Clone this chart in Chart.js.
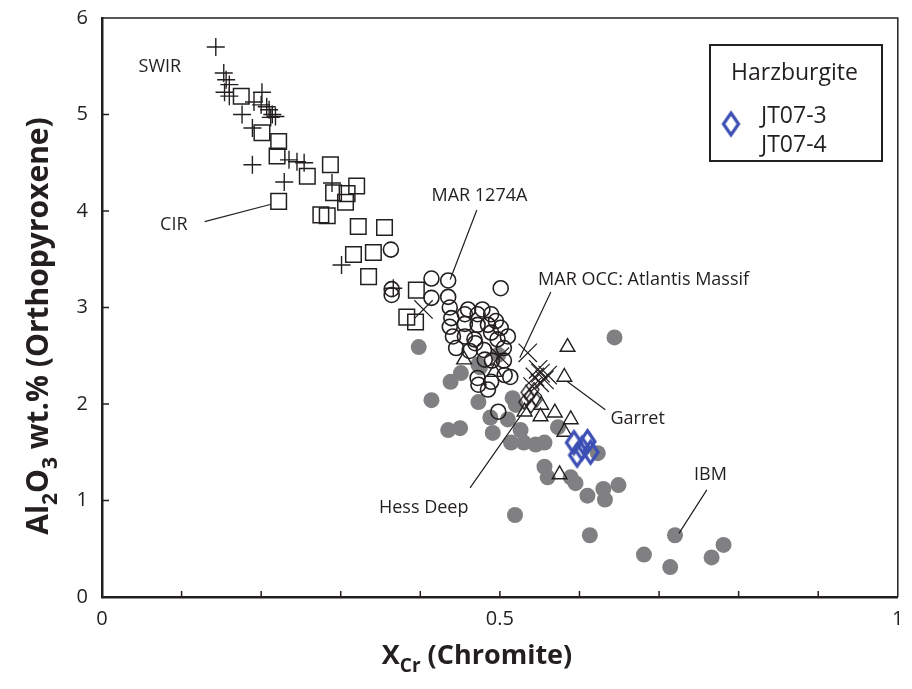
<!DOCTYPE html>
<html>
<head>
<meta charset="utf-8">
<script src="https://cdn.jsdelivr.net/npm/chart.js@4.4.1/dist/chart.umd.min.js"></script>
<style>
  html, body { margin: 0; padding: 0; background: #fff; }
  #wrap { width: 912px; height: 689px; }
</style>
</head>
<body>
<div id="wrap"><canvas id="chart" width="912" height="689"></canvas></div>
<script>
// ---- data (X_Cr chromite vs Al2O3 opx) ----
const swirX = [0.143, 0.153, 0.156, 0.160, 0.154, 0.160, 0.176, 0.191, 0.201, 0.200, 0.210, 0.214, 0.218, 0.212, 0.207, 0.189, 0.189, 0.229, 0.235, 0.245, 0.254, 0.289, 0.301, 0.366];
const swirY = [5.70, 5.43, 5.36, 5.31, 5.23, 5.19, 5.00, 5.13, 5.23, 5.10, 5.05, 5.00, 4.98, 4.97, 5.08, 4.86, 4.48, 4.30, 4.53, 4.51, 4.50, 4.29, 3.44, 3.20];

const cirX = [0.175, 0.201, 0.222, 0.220, 0.222, 0.258, 0.287, 0.291, 0.320, 0.306, 0.308, 0.275, 0.283, 0.322, 0.355, 0.316, 0.341, 0.335, 0.395, 0.383, 0.394];
const cirY = [5.19, 4.81, 4.72, 4.57, 4.10, 4.36, 4.48, 4.19, 4.26, 4.09, 4.18, 3.96, 3.95, 3.84, 3.83, 3.55, 3.57, 3.32, 3.18, 2.90, 2.85];

const mar1274X = [0.363, 0.364, 0.364, 0.414, 0.435, 0.414, 0.435, 0.501, 0.437, 0.439, 0.456, 0.472, 0.489, 0.501, 0.472, 0.456, 0.437, 0.441, 0.456, 0.468, 0.489, 0.497, 0.485, 0.460, 0.478, 0.495, 0.510, 0.505, 0.480, 0.462, 0.445, 0.490, 0.472, 0.489, 0.506, 0.513, 0.469, 0.481, 0.473, 0.485, 0.505, 0.498];
const mar1274Y = [3.60, 3.19, 3.13, 3.30, 3.28, 3.10, 3.11, 3.20, 3.00, 2.89, 2.93, 2.93, 2.93, 2.79, 2.82, 2.83, 2.80, 2.70, 2.70, 2.67, 2.74, 2.67, 2.82, 2.98, 2.98, 2.86, 2.70, 2.58, 2.56, 2.55, 2.58, 2.45, 2.27, 2.23, 2.30, 2.28, 2.63, 2.46, 2.20, 2.15, 2.45, 1.92];

const occX = [0.404, 0.500, 0.535, 0.548, 0.551, 0.544, 0.556, 0.550, 0.541, 0.560];
const occY = [2.98, 2.49, 2.53, 2.36, 2.32, 2.28, 2.25, 2.22, 2.18, 2.30];

const hessX = [0.533, 0.543, 0.530, 0.537, 0.546, 0.539];
const hessY = [2.12, 2.15, 2.02, 2.08, 2.04, 1.98];

const garretX = [0.585, 0.581, 0.551, 0.569, 0.589, 0.581, 0.575, 0.531, 0.455, 0.493, 0.552];
const garretY = [2.59, 2.28, 1.87, 1.91, 1.84, 1.71, 1.27, 1.92, 2.46, 2.33, 1.99];

const ibmX = [0.398, 0.451, 0.438, 0.414, 0.473, 0.498, 0.475, 0.473, 0.435, 0.450, 0.488, 0.491, 0.644, 0.516, 0.520, 0.510, 0.526, 0.514, 0.530, 0.545, 0.556, 0.573, 0.623, 0.556, 0.560, 0.589, 0.595, 0.610, 0.630, 0.632, 0.649, 0.519, 0.613, 0.720, 0.681, 0.714, 0.766, 0.781];
const ibmY = [2.59, 2.32, 2.23, 2.04, 2.41, 2.51, 2.38, 2.02, 1.73, 1.75, 1.86, 1.70, 2.69, 2.06, 1.99, 1.84, 1.73, 1.60, 1.60, 1.58, 1.60, 1.76, 1.49, 1.35, 1.24, 1.24, 1.18, 1.05, 1.12, 1.01, 1.16, 0.85, 0.64, 0.64, 0.44, 0.31, 0.41, 0.54];

const jtX = [0.593, 0.610, 0.597, 0.614, 0.603];
const jtY = [1.60, 1.61, 1.47, 1.50, 1.54];

const xTicks = [0, 0.5, 1];
const yTicks = [0, 1, 2, 3, 4, 5, 6];

// labels with leader lines, in data units
const noteText = ['SWIR', 'CIR', 'MAR 1274A', 'MAR OCC: Atlantis Massif', 'Garret', 'Hess Deep', 'IBM'];
const noteX = [0.046, 0.073, 0.414, 0.548, 0.639, 0.348, 0.744];
const noteY = [5.49, 3.86, 4.16, 3.29, 1.85, 0.92, 1.27];
const lineFrom = [null, [0.129, 3.89], [0.471, 4.01], [0.564, 3.16], [0.585, 2.23], [0.4625, 1.13], [0.760, 1.11]];
const lineTo = [null, [0.2125, 4.07], [0.4375, 3.29], [0.525, 2.48], [0.6325, 1.94], [0.5475, 2.13], [0.725, 0.66]];

const INK = '#231f20';
const GRAY = '#808083';
const BLUE = '#3c4fb4';
const FONT = '"Open Sans", "Noto Sans", sans-serif';

const pts = (xs, ys) => xs.map((x, i) => ({ x: x, y: ys[i] }));

function diamond(w, h, color, lw) {
    const c = document.createElement('canvas');
    c.width = w + lw * 2;
    c.height = h + lw * 2;
    const g = c.getContext('2d');
    const cx = c.width / 2, cy = c.height / 2;
    g.strokeStyle = color;
    g.lineWidth = lw;
    g.beginPath();
    g.moveTo(cx, cy - h / 2);
    g.lineTo(cx + w / 2, cy);
    g.lineTo(cx, cy + h / 2);
    g.lineTo(cx - w / 2, cy);
    g.closePath();
    g.stroke();
    return c;
}

const blueDiamond = diamond(15, 22, BLUE, 3.2);
const smallDiamond = diamond(10, 14, INK, 1.3);

// ticks, frame, notes, legend and axis titles
const decor = {
    id: 'decor',
    afterDraw(chart) {
        const ctx = chart.ctx;
        const xs = chart.scales.x, ys = chart.scales.y;
        const a = chart.chartArea;
        ctx.save();
        ctx.strokeStyle = INK;

        // frame top/right
        ctx.lineWidth = 1.5;
        ctx.beginPath();
        ctx.moveTo(a.left, a.top);
        ctx.lineTo(a.right, a.top);
        ctx.lineTo(a.right, a.bottom);
        ctx.stroke();

        // inward ticks
        ctx.beginPath();
        for (let i = 1; i < 10; i++) {
            const px = xs.getPixelForValue(i / 10);
            ctx.moveTo(px, a.bottom);
            ctx.lineTo(px, a.bottom - 6);
        }
        for (let v = 1; v < 6; v++) {
            const py = ys.getPixelForValue(v);
            ctx.moveTo(a.left, py);
            ctx.lineTo(a.left + 7, py);
        }
        ctx.stroke();

        // notes
        ctx.lineWidth = 1.2;
        ctx.beginPath();
        lineFrom.forEach((f, i) => {
            if (!f) return;
            ctx.moveTo(xs.getPixelForValue(f[0]), ys.getPixelForValue(f[1]));
            ctx.lineTo(xs.getPixelForValue(lineTo[i][0]), ys.getPixelForValue(lineTo[i][1]));
        });
        ctx.stroke();
        ctx.fillStyle = INK;
        ctx.font = '18px ' + FONT;
        ctx.textBaseline = 'middle';
        ctx.textAlign = 'left';
        noteText.forEach((t, i) => {
            ctx.fillText(t, xs.getPixelForValue(noteX[i]), ys.getPixelForValue(noteY[i]));
        });

        // legend box
        ctx.lineWidth = 2;
        ctx.strokeRect(710, 45, 172, 116);
        ctx.font = '23px ' + FONT;
        ctx.fillText('Harzburgite', 731, 73);
        ctx.fillText('JT07-3', 761, 116);
        ctx.fillText('JT07-4', 761, 145);
        ctx.drawImage(blueDiamond, 731 - blueDiamond.width / 2, 124 - blueDiamond.height / 2);

        // axis titles with subscripts
        function run(parts, x0, base, big, small, drop) {
            let x = x0;
            parts.forEach(p => {
                ctx.font = p[1] ? small : big;
                ctx.fillText(p[0], x, base + (p[1] ? drop : 0));
                x += ctx.measureText(p[0]).width;
            });
        }
        function width(parts, big, small) {
            let w = 0;
            parts.forEach(p => { ctx.font = p[1] ? small : big; w += ctx.measureText(p[0]).width; });
            return w;
        }
        ctx.textBaseline = 'alphabetic';
        const xb = 'bold 27px ' + FONT, xsm = 'bold 19px ' + FONT;
        const xt = [['X', 0], ['Cr', 1], [' (Chromite)', 0]];
        run(xt, 477 - width(xt, xb, xsm) / 2, 664, xb, xsm, 8);

        const yb = 'bold 30px ' + FONT, ysm = 'bold 21px ' + FONT;
        const yt = [['Al', 0], ['2', 1], ['O', 0], ['3', 1], [' wt.% (Orthopyroxene)', 0]];
        ctx.translate(37, 326);
        ctx.rotate(-Math.PI / 2);
        run(yt, -width(yt, yb, ysm) / 2, 11, yb, ysm, 9);
        ctx.restore();
    }
};

new Chart(document.getElementById('chart'), {
    type: 'scatter',
    data: {
        datasets: [
            { label: 'JT07', data: pts(jtX, jtY), pointStyle: blueDiamond },
            { label: 'Hess Deep', data: pts(hessX, hessY), pointStyle: smallDiamond },
            { label: 'Garret', data: pts(garretX, garretY), pointStyle: 'triangle', pointRadius: 8.5, pointBorderWidth: 1.4, pointBorderColor: INK, pointBackgroundColor: 'rgba(0,0,0,0)' },
            { label: 'MAR OCC', data: pts(occX, occY), pointStyle: 'crossRot', pointRadius: 13, pointBorderWidth: 1.2, pointBorderColor: INK },
            { label: 'MAR 1274A', data: pts(mar1274X, mar1274Y), pointStyle: 'circle', pointRadius: 7.5, pointBorderWidth: 1.6, pointBorderColor: INK, pointBackgroundColor: 'rgba(0,0,0,0)' },
            { label: 'CIR', data: pts(cirX, cirY), pointStyle: 'rect', pointRadius: 11, pointBorderWidth: 1.5, pointBorderColor: INK, pointBackgroundColor: 'rgba(0,0,0,0)' },
            { label: 'SWIR', data: pts(swirX, swirY), pointStyle: 'cross', pointRadius: 9, pointBorderWidth: 1.4, pointBorderColor: INK },
            { label: 'IBM', data: pts(ibmX, ibmY), pointStyle: 'circle', pointRadius: 8, pointBorderWidth: 0, pointBackgroundColor: GRAY }
        ]
    },
    options: {
        responsive: false,
        animation: false,
        devicePixelRatio: 1,
        events: [],
        layout: { padding: { top: 18, right: 10, left: 0, bottom: 0 } },
        plugins: { legend: { display: false }, tooltip: { enabled: false } },
        scales: {
            x: {
                type: 'linear', min: 0, max: 1,
                afterFit: s => { s.height = 92; s.paddingLeft = 0; s.paddingRight = 0; },
                afterBuildTicks: s => { s.ticks = xTicks.map(v => ({ value: v })); },
                ticks: { font: { size: 20, family: FONT }, color: INK, padding: 10, callback: v => String(v), maxRotation: 0 },
                grid: { display: false, drawTicks: false },
                border: { display: true, color: INK, width: 2.5 }
            },
            y: {
                min: 0, max: 6,
                afterFit: s => { s.width = 102; s.paddingTop = 0; s.paddingBottom = 0; },
                afterBuildTicks: s => { s.ticks = yTicks.map(v => ({ value: v })); },
                ticks: { font: { size: 20, family: FONT }, color: INK, padding: 14 },
                grid: { display: false, drawTicks: false },
                border: { display: true, color: INK, width: 2.5 }
            }
        }
    },
    plugins: [decor]
});
</script>
</body>
</html>
